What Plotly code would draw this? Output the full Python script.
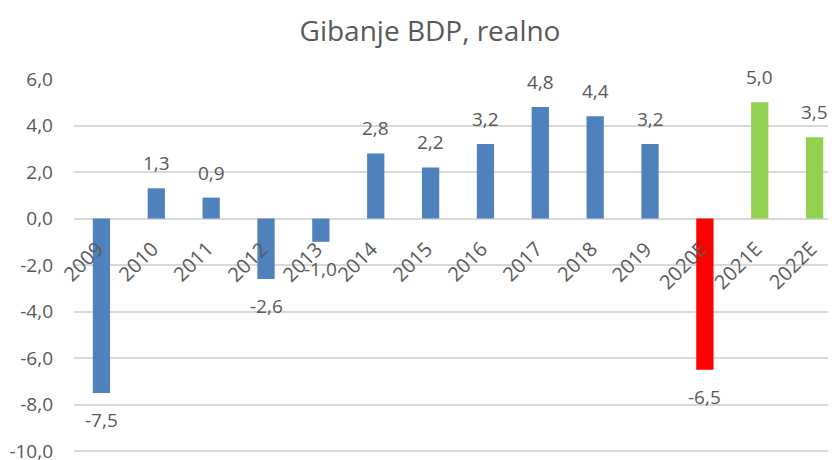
import plotly.graph_objects as go

categories = ["2009", "2010", "2011", "2012", "2013", "2014", "2015", "2016",
              "2017", "2018", "2019", "2020E", "2021E", "2022E"]
values = [-7.5, 1.3, 0.9, -2.6, -1.0, 2.8, 2.2, 3.2, 4.8, 4.4, 3.2, -6.5, 5.0, 3.5]
bar_colors = ["#4F81BD"] * 11 + ["#FF0000", "#92D050", "#92D050"]
y_tickvals = [6, 4, 2, 0, -2, -4, -6, -8, -10]
y_ticktext = ["6,0", "4,0", "2,0", "0,0", "-2,0", "-4,0", "-6,0", "-8,0", "-10,0"]

FONT = "Open Sans"
GREY = "#595959"

def fmt(v):
    return f"{v:.1f}".replace(".", ",")

fig = go.Figure()
fig.add_trace(go.Bar(
    x=list(range(len(categories))), y=values,
    marker=dict(color=bar_colors, line=dict(width=0)),
    width=0.315, hovertext=categories, hoverinfo="text+y",
))

annotations = []
for i, v in enumerate(values):
    if v >= 0:
        annotations.append(dict(x=i, y=v, xref="x", yref="y", text=fmt(v), showarrow=False,
                                yanchor="bottom", yshift=10,
                                font=dict(family=FONT, size=19, color=GREY)))
    else:
        annotations.append(dict(x=i, y=v, xref="x", yref="y", text=fmt(v), showarrow=False,
                                yanchor="top", yshift=-12,
                                font=dict(family=FONT, size=19, color=GREY)))
for i, c in enumerate(categories):
    annotations.append(dict(x=i, y=0, xref="x", yref="y", text=c, showarrow=False,
                            textangle=-45, xanchor="right", yanchor="top",
                            xshift=10, yshift=-14,
                            font=dict(family=FONT, size=20, color=GREY)))

# page body has an 8px margin: figure is sized/offset to compensate
fig.update_layout(
    width=828, height=460,
    margin=dict(l=66, r=0, t=71, b=15),
    paper_bgcolor="white", plot_bgcolor="white",
    showlegend=False,
    title=dict(text="Gibanje BDP, realno", x=422 / 828, xanchor="center",
               xref="container", yref="container", y=1 - 23 / 460, yanchor="middle",
               font=dict(family=FONT, size=28, color=GREY)),
    annotations=annotations,
)
fig.update_xaxes(range=[-0.5, 13.39], showticklabels=False, automargin=False,
                 showgrid=False, zeroline=False, showline=False, ticks="")
fig.update_yaxes(range=[-10.08, 6], tickvals=y_tickvals, ticktext=y_ticktext,
                 automargin=False,
                 showgrid=True, gridcolor="#D9D9D9", gridwidth=1.5,
                 zeroline=True, zerolinecolor="#D9D9D9", zerolinewidth=1.5,
                 showline=False, ticks="", ticklabelstandoff=20,
                 tickfont=dict(family=FONT, size=19, color=GREY))
fig.write_html("out.html")
